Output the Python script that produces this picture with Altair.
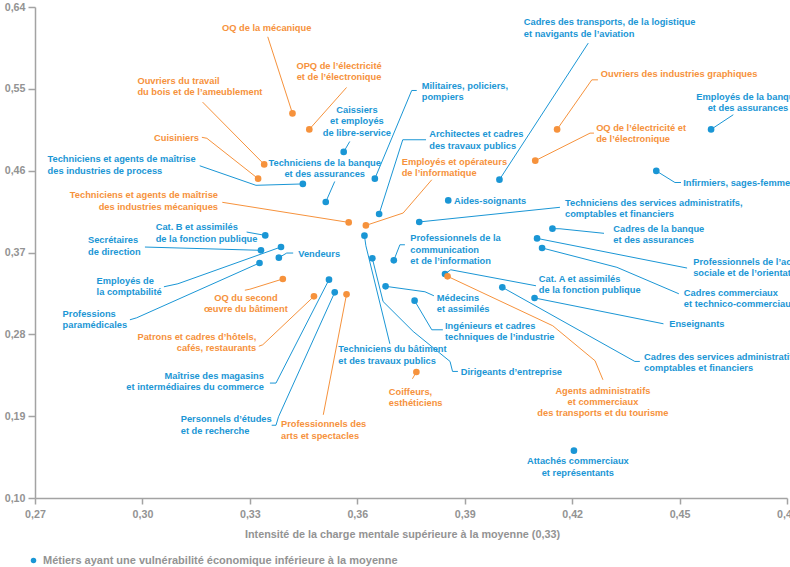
import altair as alt
import pandas as pd

INF = "Métiers ayant une vulnérabilité économique inférieure à la moyenne"
SUP = "Métiers ayant une vulnérabilité économique supérieure à la moyenne"

# --- data -------------------------------------------------------------------
metiers = [
    "Caissiers\net employés\nde libre-service",
    "Techniciens et agents de maîtrise\ndes industries de process",
    "Militaires, policiers,\npompiers",
    "Cadres des transports, de la logistique\net navigants de l’aviation",
    "Techniciens de la banque\net des assurances",
    "Architectes et cadres\ndes travaux publics",
    "Aides-soignants",
    "Techniciens des services administratifs,\ncomptables et financiers",
    "Techniciens du bâtiment\net des travaux publics",
    "Dirigeants d’entreprise",
    "Professionnels de la\ncommunication\net de l’information",
    "Médecins\net assimilés",
    "Ingénieurs et cadres\ntechniques de l’industrie",
    "Cat. A et assimilés\nde la fonction publique",
    "Cadres des services administratifs,\ncomptables et financiers",
    "Enseignants",
    "Cadres de la banque\net des assurances",
    "Professionnels de l’action\nsociale et de l’orientation",
    "Cadres commerciaux\net technico-commerciaux",
    "Employés de la banque\net des assurances",
    "Infirmiers, sages-femmes",
    "Attachés commerciaux\net représentants",
    "Cat. B et assimilés\nde la fonction publique",
    "Secrétaires\nde direction",
    "Vendeurs",
    "Employés de\nla comptabilité",
    "Professions\nparamédicales",
    "Maîtrise des magasins\net intermédiaires du commerce",
    "Personnels d’études\net de recherche",
    "OQ de la mécanique",
    "OPQ de l’électricité\net de l’électronique",
    "Ouvriers du travail\ndu bois et de l’ameublement",
    "Cuisiniers",
    "Techniciens et agents de maîtrise\ndes industries mécaniques",
    "Employés et opérateurs\nde l’informatique",
    "OQ du second\nœuvre du bâtiment",
    "Patrons et cadres d’hôtels,\ncafés, restaurants",
    "Professionnels des\narts et spectacles",
    "Agents administratifs\net commerciaux\ndes transports  et du tourisme",
    "Coiffeurs,\nesthéticiens",
    "Ouvriers des industries graphiques",
    "OQ de l’électricité et\nde l’électronique",
]

charge_mentale = [
    0.3562, 0.3448, 0.3649, 0.3997, 0.3512, 0.3661, 0.3854, 0.3773, 0.3620,
    0.3642, 0.3702, 0.3679, 0.3760, 0.3845, 0.4005, 0.4095, 0.4145, 0.4102,
    0.4116, 0.4588, 0.4435, 0.4205, 0.3343, 0.3331, 0.3381, 0.3387, 0.3327,
    0.3521, 0.3537,
    0.3419, 0.3466, 0.3340, 0.3323, 0.3576, 0.3624, 0.3392, 0.3479, 0.3570,
    0.3852, 0.3765, 0.4158, 0.4097,
]

indice = [
    0.4806, 0.4454, 0.4512, 0.4501, 0.4256, 0.4124, 0.4273, 0.4036, 0.3885,
    0.3636, 0.3614, 0.3328, 0.3170, 0.3464, 0.3317, 0.3200, 0.3962, 0.3855,
    0.3750, 0.5054, 0.4597, 0.1521, 0.3888, 0.3724, 0.3643, 0.3761, 0.3585,
    0.3401, 0.3262,
    0.5230, 0.5054, 0.4669, 0.4512, 0.4031, 0.3998, 0.3409, 0.3218, 0.3240,
    0.3438, 0.2386, 0.5054, 0.4710,
]

groupe = [INF] * 29 + [SUP] * 13

# --- label placement: anchor (x, first baseline), alignment, leader path ----
placement = [
    (0.3599, 0.5232, "center", [(0.3579, 0.4921)]),
    (0.2735, 0.4690, "left", [(0.3160, 0.4654), (0.3317, 0.4439)]),
    (0.3780, 0.5499, "left", [(0.3766, 0.5482), (0.3752, 0.5482)]),
    (0.4065, 0.6197, "left", [(0.4245, 0.6003)]),
    (0.3509, 0.4653, "center", [(0.3537, 0.4481)]),
    (0.3801, 0.4968, "left", [(0.3792, 0.4940), (0.3727, 0.4940)]),
    (0.3870, 0.4235, "left", []),
    (0.4180, 0.4213, "left", [(0.4166, 0.4197)]),
    (0.3547, 0.2601, "left", [(0.3691, 0.2696), (0.3624, 0.3774)]),
    (0.3889, 0.2354, "left", [(0.3881, 0.2392), (0.3866, 0.2392), (0.3859, 0.2502),
                              (0.3756, 0.2832), (0.3672, 0.3161)]),
    (0.3748, 0.3821, "left", [(0.3733, 0.3785), (0.3719, 0.3785)]),
    (0.3822, 0.3172, "left", [(0.3814, 0.3224), (0.3789, 0.3268)]),
    (0.3845, 0.2860, "left", [(0.3839, 0.2850), (0.3808, 0.2850)]),
    (0.4107, 0.3374, "left", [(0.4099, 0.3334), (0.3861, 0.3510)]),
    (0.4401, 0.2519, "left", [(0.4389, 0.2502), (0.4375, 0.2502)]),
    (0.4471, 0.2876, "left", [(0.4455, 0.2916)]),
    (0.4315, 0.3927, "left", [(0.4289, 0.3911), (0.4166, 0.3961)]),
    (0.4538, 0.3561, "left", [(0.4521, 0.3529)]),
    (0.4512, 0.3227, "left", [(0.4498, 0.3246), (0.4325, 0.3537)]),
    (0.4691, 0.5378, "center", [(0.4650, 0.5215)]),
    (0.4510, 0.4433, "left", [(0.4504, 0.4470), (0.4487, 0.4470)]),
    (0.4216, 0.1369, "center", []),
    (0.3037, 0.3942, "left", [(0.3291, 0.3925)]),
    (0.2848, 0.3799, "left", [(0.3007, 0.3760)]),
    (0.3435, 0.3656, "left", [(0.3421, 0.3694), (0.3403, 0.3694)]),
    (0.2872, 0.3355, "left", [(0.3060, 0.3323), (0.3099, 0.3356)]),
    (0.2777, 0.2989, "left", [(0.2965, 0.2960), (0.2984, 0.2982)]),
    (0.3339, 0.2310, "right", [(0.3356, 0.2264), (0.3373, 0.2264)]),
    (0.3107, 0.1831, "left", [(0.3361, 0.1800), (0.3373, 0.1800), (0.3380, 0.1893)]),
    (0.3347, 0.6134, "center", [(0.3350, 0.6072)]),
    (0.3549, 0.5716, "center", [(0.3570, 0.5515)]),
    (0.2986, 0.5554, "left", [(0.3168, 0.5354)]),
    (0.3158, 0.4921, "right", [(0.3166, 0.4967), (0.3180, 0.4956)]),
    (0.3211, 0.4297, "right", [(0.3223, 0.4252)]),
    (0.3724, 0.4664, "left", [(0.3808, 0.4500), (0.3728, 0.4134)]),
    (0.3289, 0.3172, "center", [(0.3286, 0.3285), (0.3300, 0.3296)]),
    (0.3318, 0.2739, "right", [(0.3325, 0.2669), (0.3336, 0.2685)]),
    (0.3387, 0.1776, "left", [(0.3505, 0.1915)]),
    (0.4286, 0.2145, "center", [(0.4286, 0.2300), (0.4264, 0.2509), (0.4146, 0.2894)]),
    (0.3688, 0.2137, "left", [(0.3754, 0.2311)]),
    (0.4280, 0.5628, "left", [(0.4272, 0.5599), (0.4255, 0.5599)]),
    (0.4267, 0.5037, "left", [(0.4261, 0.5013), (0.4250, 0.5013)]),
]

BLEU = "#1a96d5"
ORANGE = "#f6923c"
GRIS = "#939393"
FONT = "Liberation Sans"

points = pd.DataFrame({
    "metier": metiers,
    "charge": charge_mentale,
    "indice": indice,
    "groupe": groupe,
})

labels = pd.DataFrame({
    "metier": metiers,
    "lx": [p[0] for p in placement],
    "ly": [p[1] for p in placement],
    "align": [p[2] for p in placement],
    "groupe": groupe,
})

rows = []
for i, (m, (lx, ly, al, path)) in enumerate(zip(metiers, placement)):
    if not path:
        continue
    full = list(path) + [(charge_mentale[i], indice[i])]
    for k, (x, y) in enumerate(full):
        rows.append({"metier": m, "seq": k, "x": x, "y": y, "groupe": groupe[i]})
leaders = pd.DataFrame(rows)

x_scale = alt.Scale(domain=[0.27, 0.48], nice=False, zero=False)
y_scale = alt.Scale(domain=[0.10, 0.64], nice=False, zero=False)
color_scale = alt.Scale(domain=[INF, SUP], range=[BLEU, ORANGE])

x_ticks = [0.27, 0.30, 0.33, 0.36, 0.39, 0.42, 0.45, 0.48]
y_ticks = [0.10, 0.19, 0.28, 0.37, 0.46, 0.55, 0.64]
fmt = "replace(format(datum.value, '.2f'), '.', ',')"

x_axis = alt.Axis(
    values=x_ticks, labelExpr=fmt, grid=False, labelFlush=False,
    title="Intensité de la charge mentale supérieure à la moyenne (0,33)",
    titleX=367, titleY=30, titleAnchor="start", titleAlign="center",
    tickSize=6, labelPadding=5,
)
y_axis = alt.Axis(
    values=y_ticks, labelExpr=fmt, grid=False, title=None, labelFlush=False,
    tickSize=7, labelPadding=3,
)

lines = alt.Chart(leaders).mark_line(strokeWidth=1, interpolate="linear").encode(
    x=alt.X("x:Q", scale=x_scale, axis=x_axis),
    y=alt.Y("y:Q", scale=y_scale, axis=y_axis),
    detail="metier:N",
    order="seq:Q",
    color=alt.Color("groupe:N", scale=color_scale, legend=None),
)

dots = alt.Chart(points).mark_circle(size=44, opacity=1).encode(
    x=alt.X("charge:Q", scale=x_scale),
    y=alt.Y("indice:Q", scale=y_scale),
    color=alt.Color(
        "groupe:N", scale=color_scale,
        legend=alt.Legend(
            orient="none", legendX=-7, legendY=548, title=None,
            direction="vertical", symbolType="circle", symbolSize=30,
            labelFont=FONT, labelFontSize=11, labelFontWeight="bold",
            labelColor=GRIS, labelLimit=800, labelOffset=4, rowPadding=8,
        ),
    ),
    tooltip=["metier:N", "charge:Q", "indice:Q"],
)


def text_layer(al):
    return alt.Chart(labels).transform_filter(
        alt.datum.align == al
    ).mark_text(
        align=al, baseline="alphabetic", font=FONT, fontSize=9.3,
        fontWeight="bold", lineBreak="\n", lineHeight=11.3,
    ).encode(
        x=alt.X("lx:Q", scale=x_scale),
        y=alt.Y("ly:Q", scale=y_scale),
        text="metier:N",
        color=alt.Color("groupe:N", scale=color_scale, legend=None),
    )


chart = alt.layer(
    lines, dots, text_layer("left"), text_layer("center"), text_layer("right")
).resolve_legend(
    color="independent"
).properties(
    width=752, height=491,
    autosize=alt.AutoSizeParams(type="none"),
    padding={"left": 35, "top": 7, "right": 3, "bottom": 69},
).configure_view(
    stroke=None
).configure_axis(
    domainColor="#a3a3a3", domainWidth=1.5, tickColor="#a3a3a3", tickWidth=1.5,
    labelColor=GRIS, labelFont=FONT, labelFontSize=10.7, labelFontWeight="bold",
    titleColor=GRIS, titleFont=FONT, titleFontSize=10.8, titleFontWeight="bold",
)

chart.save("out.html", embed_options={"renderer": "svg", "actions": False})
